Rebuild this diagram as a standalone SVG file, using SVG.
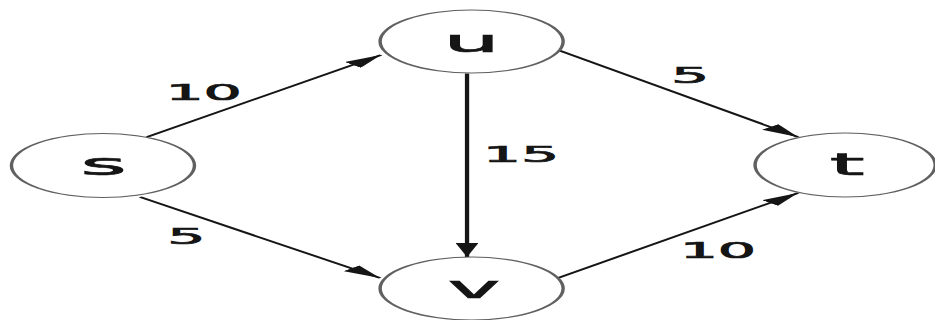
<svg xmlns="http://www.w3.org/2000/svg" width="935" height="320" viewBox="0 0 935 320">
  <style>
    .node ellipse { fill: #ffffff; stroke: #606060; stroke-width: 1.2; }
    .node text { font-family: "DejaVu Sans", "Liberation Sans", sans-serif; font-size: 31px; fill: #151515; stroke: #151515; stroke-width: 0.7; text-anchor: middle; }
    .edge line { stroke: #151515; stroke-width: 1.5; fill: none; marker-end: url(#arrow); }
    .elabel { font-family: "DejaVu Sans", "Liberation Sans", sans-serif; font-size: 21px; fill: #151515; stroke: #151515; stroke-width: 0.7; text-anchor: middle; }
  </style>
  <defs>
    <marker id="arrow" markerUnits="userSpaceOnUse" markerWidth="14" markerHeight="8" refX="14" refY="4" orient="auto">
      <path d="M0,0 L14,4 L0,8 Z" fill="#151515"/>
    </marker>
  </defs>
  <rect width="935" height="320" fill="#ffffff"/>
  <g transform="scale(2.86,1)">
    <g id="connectors" class="edge">
      <line x1="51.4" y1="137" x2="133.2" y2="55"/>
      <line x1="49" y1="197" x2="132.9" y2="278"/>
      <line x1="163.3" y1="73.5" x2="163.3" y2="257"/>
      <line x1="195.1" y1="50" x2="279" y2="137"/>
      <line x1="195.1" y1="278" x2="279" y2="193"/>
    </g>
    <g id="edge-labels">
      <text class="elabel" x="71.2" y="100">10</text>
      <text class="elabel" x="65.2" y="244">5</text>
      <text class="elabel" x="182.2" y="162">15</text>
      <text class="elabel" x="241.3" y="83">5</text>
      <text class="elabel" x="251" y="258">10</text>
    </g>
    <g id="node-s" class="node">
      <ellipse cx="36" cy="165.5" rx="32" ry="32"/>
      <text x="36.2" y="175">s</text>
    </g>
    <g id="node-u" class="node">
      <ellipse cx="164.9" cy="41.5" rx="32" ry="31.5"/>
      <text x="164.9" y="52">u</text>
    </g>
    <g id="node-v" class="node">
      <ellipse cx="164.9" cy="288.5" rx="32" ry="31.5"/>
      <text x="165.7" y="298">v</text>
    </g>
    <g id="node-t" class="node">
      <ellipse cx="295.5" cy="165" rx="31.5" ry="32"/>
      <text x="296.2" y="175">t</text>
    </g>
  </g>
</svg>
